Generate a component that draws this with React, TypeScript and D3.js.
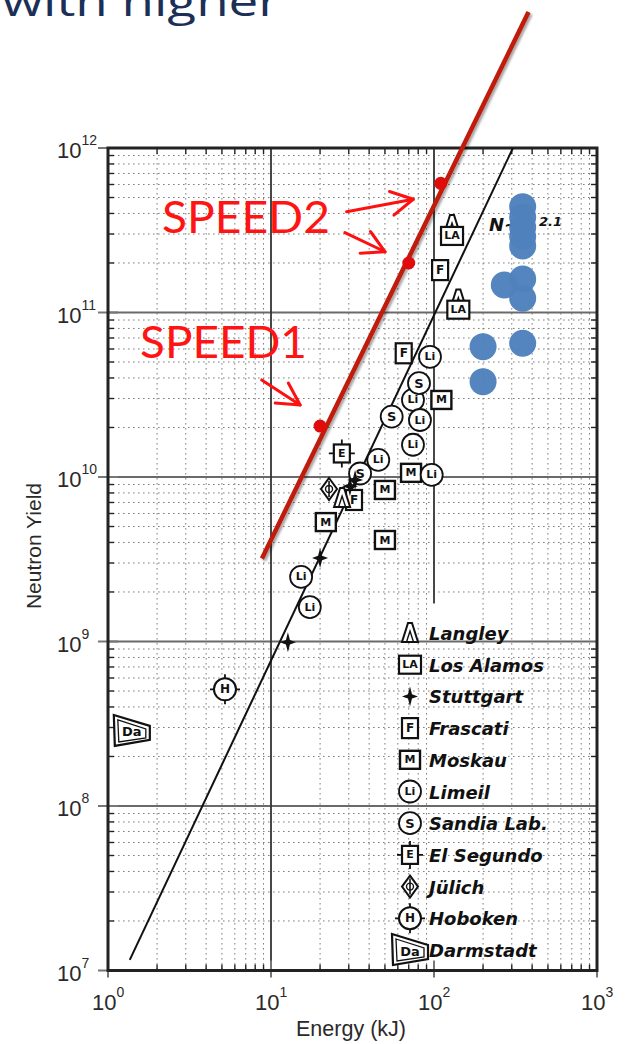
import React from 'react';
import * as d3 from 'd3';

const W = 627;
const H = 1044;

// Axis domains (log-log) and decade exponents for ticks
const xDomain: [number, number] = [1, 1000];
const yDomain: [number, number] = [1e7, 1e12];
const xTickExps = [0, 1, 2, 3];
const yTickExps = [7, 8, 9, 10, 11, 12];

// Published plasma-focus results: [energy kJ, neutron yield]
const langley = [[129, 3.4e11], [141, 1.2e11], [27.3, 7.45e9]];
const losAlamos = [[129, 2.92e11], [141, 1.04e11]];
const stuttgart = [[12.7, 9.9e8], [20, 3.22e9], [30.5, 8.8e9], [32.8, 9.6e9]];
const frascati = [[109, 1.81e11], [65.2, 5.65e10], [32.3, 7.25e9]];
const moskau = [[111, 2.94e10], [72.3, 1.06e10], [50, 8.34e9], [21.7, 5.32e9], [50, 4.14e9]];
const limeil = [
  [94.5, 5.38e10], [74.3, 2.94e10], [82, 2.22e10], [74.3, 1.57e10],
  [45.5, 1.27e10], [96.8, 1.03e10], [15.3, 2.47e9], [17.3, 1.62e9],
];
const sandia = [[80.9, 3.72e10], [55, 2.33e10], [35.2, 1.05e10]];
const elSegundo = [[27.2, 1.39e10]];
const julich = [[22.7, 8.45e9]];
const hoboken = [[5.22, 5.12e8]];
const darmstadt = [[1.4, 2.86e8]];

// Newer device shots (blue)
const blueEnergy = [350, 350, 350, 350, 350, 350, 270, 350, 200, 350, 200];
const blueYield = [4.4e11, 3.8e11, 3.3e11, 2.9e11, 2.54e11, 1.6e11, 1.47e11, 1.22e11, 6.2e10, 6.5e10, 3.8e10];

// SPEED devices (red)
const speedEnergy = [20, 70, 110];
const speedYield = [2.04e10, 2.0e11, 6.1e11];

// Scaling lines: [energy, yield] endpoints
const fitLine = [[1.36, 1.16e7], [305, 1e12]];
const speedLine = [[8.8, 3.2e9], [380, 6.7e12]];

// Annotation arrows: [from, to] in data units
const speedArrows = [
  [[29.1, 4.1e11], [74.6, 4.88e11]],
  [[28.4, 3.06e11], [50.1, 2.34e11]],
  [[8.77, 3.89e10], [15.1, 2.74e10]],
];

const legendEntries: [string, string][] = [
  ['langley', 'Langley'],
  ['losAlamos', 'Los Alamos'],
  ['stuttgart', 'Stuttgart'],
  ['frascati', 'Frascati'],
  ['moskau', 'Moskau'],
  ['limeil', 'Limeil'],
  ['sandia', 'Sandia Lab.'],
  ['elSegundo', 'El Segundo'],
  ['julich', 'Jülich'],
  ['hoboken', 'Hoboken'],
  ['darmstadt', 'Darmstadt'],
];

const series: [string, number[][]][] = [
  ['darmstadt', darmstadt],
  ['hoboken', hoboken],
  ['julich', julich],
  ['elSegundo', elSegundo],
  ['moskau', moskau],
  ['frascati', frascati],
  ['langley', langley],
  ['losAlamos', losAlamos],
  ['limeil', limeil],
  ['sandia', sandia],
  ['stuttgart', stuttgart],
];

const plot = { left: 108, right: 597, top: 148, bottom: 970.5 };
const x = d3.scaleLog().domain(xDomain).range([plot.left, plot.right]);
const y = d3.scaleLog().domain(yDomain).range([plot.bottom, plot.top]);

const letterFont = 'DejaVu Sans';

function Marker({ type, cx, cy }: { type: string; cx: number; cy: number }) {
  const sw = 1.8;
  const common = { fill: 'white', stroke: '#111', strokeWidth: sw };
  const letter = (t: string, size: number, dy = 0) => (
    <text x={0} y={dy} fontFamily={letterFont} fontSize={size} fontWeight="bold"
      textAnchor="middle" dominantBaseline="central" fill="#111">{t}</text>
  );
  let body: React.ReactNode = null;
  switch (type) {
    case 'langley':
      body = (
        <g>
          <path d="M-8,9 L-2,-10 L2,-10 L8,9 Z" {...common} strokeWidth={2} />
          <path d="M-3.5,9 L0,-2 L3.5,9" fill="none" stroke="#111" strokeWidth={1.4} />
        </g>
      );
      break;
    case 'losAlamos':
      body = (
        <g>
          <rect x={-11} y={-9} width={22} height={18} {...common} strokeWidth={2.2} />
          {letter('LA', 11)}
        </g>
      );
      break;
    case 'stuttgart':
      body = <path d="M0,-10 L2,-2.2 L8,0 L2,2.2 L0,10 L-2,2.2 L-8,0 L-2,-2.2 Z" fill="#111" />;
      break;
    case 'frascati':
      body = (
        <g>
          <rect x={-8} y={-10} width={16} height={20} {...common} strokeWidth={2.2} />
          {letter('F', 12)}
        </g>
      );
      break;
    case 'moskau':
      body = (
        <g>
          <rect x={-10} y={-9} width={20} height={18} {...common} strokeWidth={2.4} />
          {letter('M', 11)}
        </g>
      );
      break;
    case 'limeil':
      body = (
        <g>
          <circle r={11} {...common} />
          {letter('Li', 11)}
        </g>
      );
      break;
    case 'sandia':
      body = (
        <g>
          <circle r={11} {...common} />
          {letter('S', 13)}
        </g>
      );
      break;
    case 'elSegundo':
      body = (
        <g>
          <path d="M-13,0 H13 M0,-14 V14" stroke="#111" strokeWidth={1.8} />
          <rect x={-8} y={-9} width={16} height={18} {...common} strokeWidth={2.2} />
          {letter('E', 11)}
        </g>
      );
      break;
    case 'julich':
      body = (
        <g>
          <path d="M0,-11 L8,0 L0,11 L-8,0 Z" {...common} strokeWidth={2} />
          <path d="M0,-8 V8" stroke="#111" strokeWidth={1.6} />
          <circle r={3.5} fill="none" stroke="#111" strokeWidth={1.4} />
        </g>
      );
      break;
    case 'hoboken':
      body = (
        <g>
          <path d="M-15,0 H15 M0,-15 V15" stroke="#111" strokeWidth={1.8} />
          <circle r={11} {...common} strokeWidth={2} />
          {letter('H', 12)}
        </g>
      );
      break;
    case 'darmstadt':
      body = (
        <g>
          <path d="M-18,-16 L18,-5 L18,9 L-17,15 Z" {...common} strokeWidth={2.2} />
          <path d="M-14,-11 L14,-2 L14,7 L-13,11 Z" fill="none" stroke="#111" strokeWidth={1.3} />
          {letter('Da', 13, 1)}
        </g>
      );
      break;
  }
  return <g transform={`translate(${cx},${cy})`}>{body}</g>;
}

function arrowHead(x1: number, y1: number, x2: number, y2: number, len = 25, ang = 0.5) {
  const a = Math.atan2(y1 - y2, x1 - x2);
  const p1 = [x2 + len * Math.cos(a + ang), y2 + len * Math.sin(a + ang)];
  const p2 = [x2 + len * Math.cos(a - ang), y2 + len * Math.sin(a - ang)];
  return `M${p1[0]},${p1[1]} L${x2},${y2} L${p2[0]},${p2[1]}`;
}

export default function App() {
  const minorX: number[] = [];
  xTickExps.slice(0, -1).forEach((e) => {
    for (let m = 2; m <= 9; m++) minorX.push(m * Math.pow(10, e));
  });
  const minorY: number[] = [];
  yTickExps.slice(0, -1).forEach((e) => {
    for (let m = 2; m <= 9; m++) minorY.push(m * Math.pow(10, e));
  });

  const line = d3.line<number[]>().x((d) => x(d[0])).y((d) => y(d[1]));
  const tickFont = 'Liberation Sans, Arial, sans-serif';
  const legendX = 410;
  const legendY0 = 633;
  const legendStep = 31.7;

  return (
    <svg width={W} height={H} style={{ position: 'absolute', left: 0, top: 0, background: 'white' }}>
      <defs>
        <filter id="shadow" x="-20%" y="-20%" width="140%" height="140%">
          <feDropShadow dx={2} dy={2} stdDeviation={1.2} floodColor="#000" floodOpacity={0.35} />
        </filter>
        <clipPath id="plotClip">
          <rect x={plot.left} y={plot.top} width={plot.right - plot.left} height={plot.bottom - plot.top} />
        </clipPath>
      </defs>

      {/* title fragment, running off the top edge */}
      <text x={2} y={16} fontFamily="Open Sans, sans-serif" fontSize={40} fill="#1b2f57"
        textLength={278} lengthAdjust="spacingAndGlyphs">with higher</text>

      {/* minor dotted grid */}
      <g stroke="#7f7f7f" strokeWidth={1} strokeDasharray="1.6,3.4">
        {minorX.map((v) => (
          <line key={'gx' + v} x1={x(v)} x2={x(v)} y1={plot.top} y2={plot.bottom} />
        ))}
        {minorY.map((v) => (
          <line key={'gy' + v} x1={plot.left} x2={plot.right} y1={y(v)} y2={y(v)} />
        ))}
      </g>

      {/* major grid */}
      <g>
        {yTickExps.slice(1, -1).map((e) => (
          <line key={'my' + e} x1={plot.left} x2={plot.right} y1={y(Math.pow(10, e))} y2={y(Math.pow(10, e))}
            stroke="#6a6a6a" strokeWidth={2} />
        ))}
        <line x1={x(10)} x2={x(10)} y1={plot.top} y2={plot.bottom} stroke="#333" strokeWidth={1.8} />
        <line x1={x(100)} x2={x(100)} y1={plot.top} y2={y(1.7e9)} stroke="#333" strokeWidth={1.8} />
      </g>

      {/* axis ticks */}
      <g stroke="#222" strokeWidth={1.4}>
        {minorX.map((v) => (
          <g key={'tx' + v}>
            <line x1={x(v)} x2={x(v)} y1={plot.bottom} y2={plot.bottom - 6} />
            <line x1={x(v)} x2={x(v)} y1={plot.top} y2={plot.top + 6} />
          </g>
        ))}
        {minorY.map((v) => (
          <g key={'ty' + v}>
            <line x1={plot.left} x2={plot.left + 6} y1={y(v)} y2={y(v)} />
            <line x1={plot.right} x2={plot.right - 6} y1={y(v)} y2={y(v)} />
          </g>
        ))}
        {xTickExps.map((e) => (
          <line key={'MX' + e} x1={x(Math.pow(10, e))} x2={x(Math.pow(10, e))} y1={plot.bottom - 10} y2={plot.bottom + 7} stroke="#777" strokeWidth={2} />
        ))}
        {yTickExps.map((e) => (
          <line key={'MY' + e} x1={plot.left - 10} x2={plot.left + 10} y1={y(Math.pow(10, e))} y2={y(Math.pow(10, e))} stroke="#777" strokeWidth={2} />
        ))}
      </g>

      {/* frame */}
      <rect x={plot.left} y={plot.top} width={plot.right - plot.left} height={plot.bottom - plot.top}
        fill="none" stroke="#222" strokeWidth={3} />

      {/* tick labels */}
      <g fontFamily={tickFont} fill="#2a2a2a">
        {yTickExps.map((e) => (
          <text key={'ly' + e} x={57} y={y(Math.pow(10, e)) + 10} fontSize={22}>
            10<tspan fontSize={14} dy={-13}>{e}</tspan>
          </text>
        ))}
        {xTickExps.map((e) => (
          <text key={'lx' + e} x={x(Math.pow(10, e)) - 16} y={1010} fontSize={22}>
            10<tspan fontSize={14} dy={-13}>{e}</tspan>
          </text>
        ))}
        <text x={351} y={1036} fontSize={21.5} textAnchor="middle">Energy (kJ)</text>
        <text transform="translate(41,546) rotate(-90)" fontSize={21} textAnchor="middle">Neutron Yield</text>
      </g>

      {/* scaling fit line */}
      <path d={line(fitLine) || ''} fill="none" stroke="#111" strokeWidth={2} clipPath="url(#plotClip)" />

      {/* published results */}
      {series.map(([type, pts]) =>
        pts.map((p, i) => <Marker key={type + i} type={type} cx={x(p[0])} cy={y(p[1])} />)
      )}

      {/* legend */}
      {legendEntries.map(([type, label], i) => (
        <g key={'leg' + type}>
          <Marker type={type} cx={legendX} cy={legendY0 + i * legendStep} />
          <text x={429} y={legendY0 + i * legendStep + 7} fontFamily="DejaVu Sans" fontStyle="italic"
            fontWeight="bold" fontSize={18} fill="#111">{label}</text>
        </g>
      ))}

      {/* fit label */}
      <g fontFamily="DejaVu Sans" fontStyle="italic" fontWeight="bold" fill="#111">
        <text x={489} y={231} fontSize={18}>N~E</text>
        <text x={539} y={226} fontSize={13}>2.1</text>
      </g>

      {/* newer devices */}
      <g fill="#4f81bd" fillOpacity={0.97}>
        {blueEnergy.map((e, i) => (
          <circle key={'b' + i} cx={x(e)} cy={y(blueYield[i])} r={13.5} />
        ))}
      </g>

      {/* SPEED scaling line and points */}
      <path d={line(speedLine) || ''} fill="none" stroke="#c01a08" strokeWidth={4.5} filter="url(#shadow)" />
      <g fill="#e00c0c">
        {speedEnergy.map((e, i) => (
          <circle key={'s' + i} cx={x(e)} cy={y(speedYield[i])} r={6.5} />
        ))}
      </g>

      {/* annotations */}
      <g stroke="#ff1010" strokeWidth={3} fill="none" strokeLinecap="round" strokeLinejoin="round">
        {speedArrows.map(([a, b], i) => {
          const x1 = x(a[0]), y1 = y(a[1]), x2 = x(b[0]), y2 = y(b[1]);
          return (
            <g key={'ar' + i}>
              <line x1={x1} y1={y1} x2={x2} y2={y2} />
              <path d={arrowHead(x1, y1, x2, y2)} />
            </g>
          );
        })}
      </g>
      <g fontFamily="Lato, sans-serif" fontSize={44} fill="#ff1414">
        <text x={162} y={233} textLength={168} lengthAdjust="spacingAndGlyphs">SPEED2</text>
        <text x={140} y={358} textLength={167} lengthAdjust="spacingAndGlyphs">SPEED1</text>
      </g>
    </svg>
  );
}
